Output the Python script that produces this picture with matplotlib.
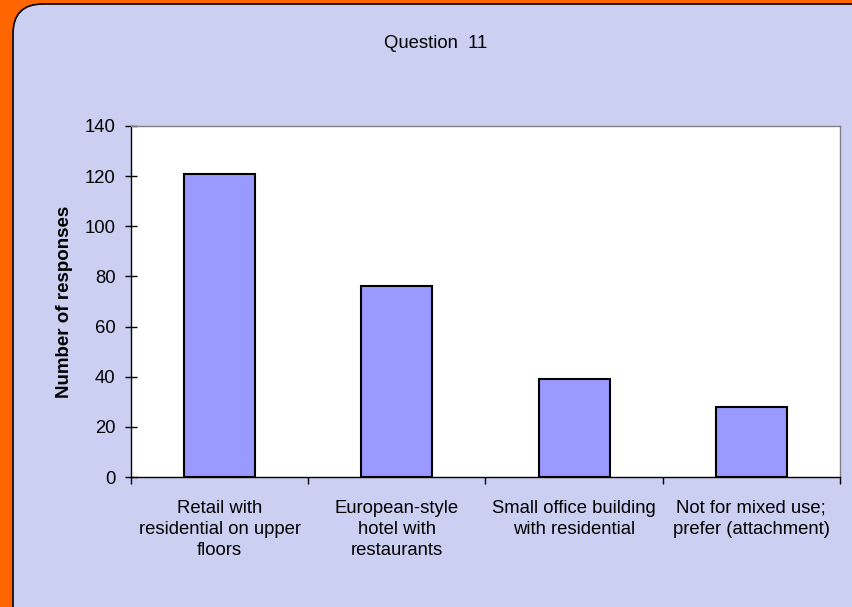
import matplotlib.pyplot as plt
from matplotlib.patches import FancyBboxPatch
import numpy as np

plt.rcParams['font.family'] = ['Liberation Sans', 'DejaVu Sans']

# chart data
categories = ['Retail with\nresidential on upper\nfloors',
              'European-style\nhotel with\nrestaurants',
              'Small office building\nwith residential',
              'Not for mixed use;\nprefer (attachment)']
responses = [121, 76, 39, 28]
y_ticks = [0, 20, 40, 60, 80, 100, 120, 140]

W, H = 853, 607
fs = 13.3
fig = plt.figure(figsize=(W / 100, H / 100), dpi=100)
fig.patch.set_facecolor('#FF6600')

# rounded panel behind the chart (top-left corner visible)
panel = FancyBboxPatch((13 / W, -50 / H), 900 / W, (603 + 50) / H,
                       boxstyle='round,pad=0,rounding_size=0.035',
                       transform=fig.transFigure, facecolor='#CBD0F2',
                       edgecolor='black', linewidth=1.2, zorder=-5,
                       mutation_aspect=W / H)
fig.patches.append(panel)

ax = fig.add_axes([131 / W, 1 - 477 / H, (840 - 131) / W, (477 - 126) / H])
ax.set_zorder(2)
ax.set_facecolor('white')

x = np.arange(len(categories))
ax.bar(x, responses, width=0.4, color='#9999FF', edgecolor='black', linewidth=1.5, zorder=3)

ax.set_xlim(-0.5, len(categories) - 0.5)
ax.set_ylim(0, 140)
ax.set_yticks(y_ticks)
ax.tick_params(axis='y', direction='inout', length=8, width=1, labelsize=fs, pad=7)

ax.set_xticks(x)
ax.set_xticklabels(categories, fontsize=fs, linespacing=1.32)
ax.tick_params(axis='x', length=0, pad=16.3)
ax.set_xticks(np.arange(-0.5, len(categories), 1), minor=True)
ax.tick_params(axis='x', which='minor', direction='out', length=5, width=1)

for s in ['left', 'bottom']:
    ax.spines[s].set_color('black')
    ax.spines[s].set_linewidth(1)
for s in ['top', 'right']:
    ax.spines[s].set_color('#808080')
    ax.spines[s].set_linewidth(1)

fig.text(65 / W, 1 - 302 / H, 'Number of responses', fontsize=13.5, fontweight='bold',
         rotation=90, ha='center', va='center')

fig.text(436 / W, 1 - 44 / H, 'Question  11', fontsize=fs, ha='center', va='center')

fig.savefig('out.png', dpi=100, facecolor=fig.get_facecolor())
